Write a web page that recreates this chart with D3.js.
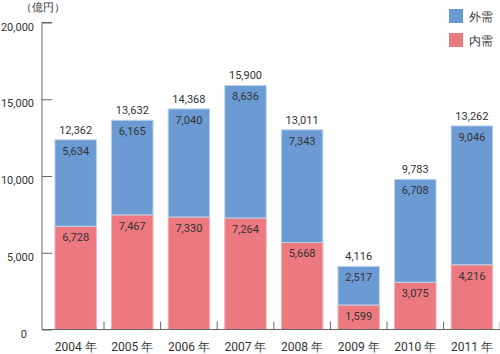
<!DOCTYPE html>
<html><head><meta charset="utf-8">
<script src="https://cdn.jsdelivr.net/npm/d3@7"></script>
<style>
body{margin:0;background:#fff;}
text{font-family:"Liberation Sans Narrow","Roboto","Liberation Sans",sans-serif;fill:#333;}
</style></head>
<body><svg id="c" width="500" height="354"></svg>
<script>
const years = ["2004 年","2005 年","2006 年","2007 年","2008 年","2009 年","2010 年","2011 年"];
const domestic = [6728,7467,7330,7264,5668,1599,3075,4216];
const external = [5634,6165,7040,8636,7343,2517,6708,9046];
const totals = [12362,13632,14368,15900,13011,4116,9783,13262];
const yTicks = [0,5000,10000,15000,20000];
const seriesNames = ["外需","内需"];
const colors = {blue:"#6b9bd2", red:"#ec7880"};

const svg = d3.select("#c");
const y = d3.scaleLinear().domain([0,20000]).range([329.5,22.5]);
const x = d3.scaleBand().domain(years).range([47.4,500.2]).paddingInner(0.267).paddingOuter(0.1335);
const fmt = d3.format(",");

// bars
const g = svg.append("g");
years.forEach((yr,i)=>{
  const x0 = x(yr), w = x.bandwidth();
  g.append("rect").attr("x",x0).attr("width",w)
    .attr("y",y(domestic[i])).attr("height",y(0)-y(domestic[i]))
    .attr("fill",colors.red).attr("stroke","#f3b4b9").attr("stroke-width",1);
  g.append("rect").attr("x",x0).attr("width",w)
    .attr("y",y(domestic[i]+external[i])).attr("height",y(domestic[i])-y(domestic[i]+external[i]))
    .attr("fill",colors.blue).attr("stroke","#bcd3ec").attr("stroke-width",1);
  const cx = x0 + w/2;
  g.append("text").attr("x",cx).attr("y",y(domestic[i])+15).attr("text-anchor","middle")
    .attr("font-size",11).text(fmt(domestic[i]));
  g.append("text").attr("x",cx).attr("y",y(domestic[i]+external[i])+15).attr("text-anchor","middle")
    .attr("font-size",11).text(fmt(external[i]));
  g.append("text").attr("x",cx).attr("y",y(totals[i])-6).attr("text-anchor","middle")
    .attr("font-size",11).text(fmt(totals[i]));
});

// y axis
const axisColor = "#666";
const ya = svg.append("g").attr("transform","translate(42,0)")
  .call(d3.axisRight(y).tickValues(yTicks).tickSize(10).tickFormat(""));
ya.selectAll("line").attr("stroke",axisColor);
ya.select(".domain").attr("stroke",axisColor).attr("d",`M10,${y(20000)}H0V${y(0)}`);
yTicks.forEach(t=>{
  svg.append("text").attr("x",t===0?27:34).attr("y",y(t)+8).attr("text-anchor","end")
    .attr("font-size",11).text(fmt(t));
});

// x axis
svg.append("line").attr("x1",42).attr("x2",500).attr("y1",y(0)).attr("y2",y(0))
  .attr("stroke",axisColor).attr("stroke-width",1);
years.forEach(yr=>{
  const bx = x(yr)+x.bandwidth()+x.step()*x.paddingInner()/2;
  svg.append("line").attr("x1",bx).attr("x2",bx).attr("y1",y(0)).attr("y2",y(0)-8)
    .attr("stroke",axisColor);
  svg.append("text").attr("x",x(yr)+x.bandwidth()/2).attr("y",351).attr("text-anchor","middle")
    .attr("font-size",12).text(yr);
});

// unit label
svg.append("text").attr("x",21).attr("y",11).attr("font-size",11).text("（億円）");

// legend
[[colors.blue,seriesNames[0],9],[colors.red,seriesNames[1],33]].forEach(([c,n,yy])=>{
  svg.append("rect").attr("x",449).attr("y",yy).attr("width",14).attr("height",14).attr("fill",c);
  svg.append("text").attr("x",469).attr("y",yy+12).attr("font-size",12).text(n);
});
</script></body></html>
